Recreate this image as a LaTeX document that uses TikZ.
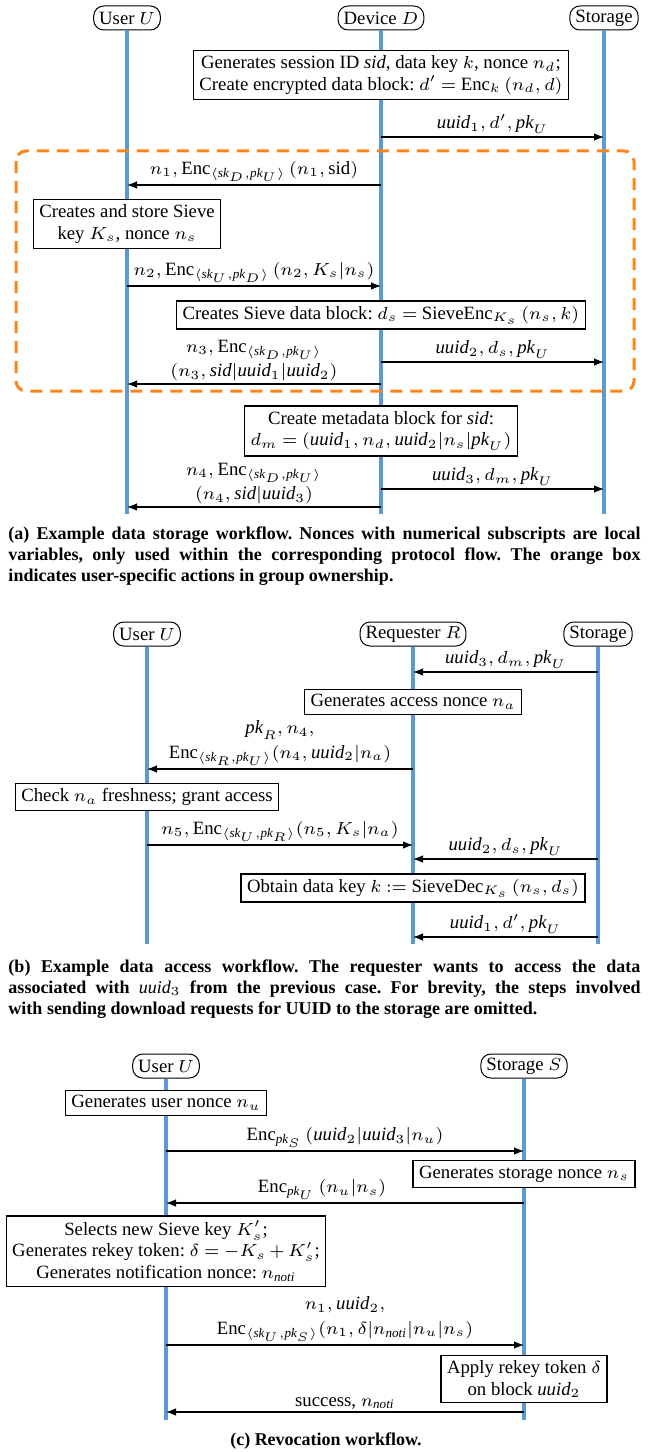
\documentclass[tikz,border=0pt]{standalone}
\usepackage{fontspec}
\setmainfont{Liberation Serif}
\usetikzlibrary{arrows.meta}
\definecolor{lifeblue}{RGB}{91,155,213}
\definecolor{grporange}{RGB}{255,133,27}
\newcommand\dfont{\fontsize{7.5}{8.6}\selectfont}
\newcommand\cfont{\fontsize{7.2}{8.4}\selectfont\bfseries}
\newcommand\capline[1]{\makebox[252.8pt][s]{#1}}
\newcommand\muu[1]{\mathit{uuid}_{#1}}
\newcommand\mpk[1]{\mathit{pk}_{#1}}
\newcommand\msk[1]{\mathit{sk}_{#1}}
\newcommand\msid{\mathit{sid}}
\newcommand\mnoti{n_{\mathit{noti}}}
\frenchspacing
\medmuskip=3mu plus 2mu minus 3mu
\thickmuskip=4mu plus 3mu minus 1mu
\begin{document}
\begin{tikzpicture}[x=0.4pt,y=-0.4pt,
  actor/.style={draw,rounded corners=4pt,inner xsep=2.2pt,inner ysep=1pt,minimum height=9.6pt,font=\dfont,fill=white},
  life/.style={draw=lifeblue,line width=1.4pt},
  grp/.style={draw=grporange,line width=1.2pt,dash pattern=on 4.8pt off 3.2pt,rounded corners=4pt},
  box/.style={draw,fill=white,line width=0.5pt,inner xsep=2.4pt,inner ysep=2pt,align=center,font=\dfont},
  msg/.style={draw,line width=0.45pt,-{Latex[length=4pt,width=3pt]}},
  lbl/.style={above,inner sep=1pt,align=center,font=\dfont},
  captext/.style={anchor=base west,inner sep=0pt,font=\cfont}]
\useasboundingbox (0,0) rectangle (652,1452);

% ---------------- (a) ----------------
\node[actor] (ua) at (127,18) {User $U$};
\node[actor] (da) at (381,18) {Device $D$};
\node[actor] (sa) at (604,18) {Storage};
\coordinate (uaz) at (127,514);
\coordinate (daz) at (381,514);
\coordinate (saz) at (604,514);
\draw[life] (ua) -- (uaz);
\draw[life] (da) -- (daz);
\draw[life] (sa) -- (saz);
\draw[grp] (16,151) rectangle (634,391);

\node[box] (a1) at (381,75) {Generates session ID $\msid$, data key $k$, nonce $n_d$;\\ Create encrypted data block: $d' = \mathrm{Enc}_k\,(n_d, d)$};
\coordinate (m1a) at (381,137); \coordinate (m1b) at (604,137);
\draw[msg] (m1a) -- node[lbl] (t1) {$\muu1, d', \mpk U$} (m1b);
\coordinate (m2a) at (381,185); \coordinate (m2b) at (127,185);
\draw[msg] (m2a) -- node[lbl] (t2) {$n_1, \mathrm{Enc}_{\langle \msk D, \mpk U\rangle}\,(n_1, \mathrm{sid})$} (m2b);
\node[box] (a2) at (127,224) {Creates and store Sieve\\ key $K_s$, nonce $n_s$};
\coordinate (m3a) at (127,286); \coordinate (m3b) at (381,286);
\draw[msg] (m3a) -- node[lbl] (t3) {$n_2, \mathrm{Enc}_{\langle \msk U, \mpk D\rangle}\,(n_2, K_s|n_s)$} (m3b);
\node[box] (a3) at (381,315) {Creates Sieve data block: $d_s = \mathrm{SieveEnc}_{K_s}\,(n_s, k)$};
\coordinate (m4a) at (381,362); \coordinate (m4b) at (604,362);
\draw[msg] (m4a) -- node[lbl] (t4) {$\muu2, d_s, \mpk U$} (m4b);
\coordinate (m5a) at (381,384); \coordinate (m5b) at (127,384);
\draw[msg] (m5a) -- node[lbl] (t5) {$n_3, \mathrm{Enc}_{\langle \msk D, \mpk U\rangle}$\\[1.2pt] $(n_3, \msid|\muu1|\muu2)$} (m5b);
\node[box] (a4) at (381,431) {Create metadata block for $\msid$:\\ $d_m = (\muu1, n_d, \muu2|n_s|\mpk U)$};
\coordinate (m6a) at (381,489); \coordinate (m6b) at (604,489);
\draw[msg] (m6a) -- node[lbl] (t6) {$\muu3, d_m, \mpk U$} (m6b);
\coordinate (m7a) at (381,507); \coordinate (m7b) at (127,507);
\draw[msg] (m7a) -- node[lbl] (t7) {$n_4, \mathrm{Enc}_{\langle \msk D, \mpk U\rangle}$\\[1.2pt] $(n_4, \msid|\muu3)$} (m7b);

\node[captext] (ca1) at (8,539) {\capline{(a) Example data storage workflow. Nonces with numerical subscripts are local}};
\node[captext] (ca2) at (8,560) {\capline{variables, only used within the corresponding protocol flow. The orange box}};
\node[captext] (ca3) at (8,581) {indicates user-specific actions in group ownership.};

% ---------------- (b) ----------------
\node[actor] (ub) at (147,634) {User $U$};
\node[actor] (rb) at (413,634) {Requester $R$};
\node[actor] (sb) at (598,634) {Storage};
\coordinate (ubz) at (147,944);
\coordinate (rbz) at (413,944);
\coordinate (sbz) at (598,944);
\draw[life] (ub) -- (ubz);
\draw[life] (rb) -- (rbz);
\draw[life] (sb) -- (sbz);

\coordinate (n1a) at (598,672); \coordinate (n1b) at (413,672);
\draw[msg] (n1a) -- node[lbl] (s1) {$\muu3, d_m, \mpk U$} (n1b);
\node[box] (b1) at (413,702) {Generates access nonce $n_a$};
\coordinate (n2a) at (413,769); \coordinate (n2b) at (147,769);
\draw[msg] (n2a) -- node[lbl] (s2) {$\mpk R, n_4,$\\[1.2pt] $\mathrm{Enc}_{\langle \msk R, \mpk U\rangle}(n_4, \muu2|n_a)$} (n2b);
\node[box] (b2) at (147,797) {Check $n_a$ freshness; grant access};
\coordinate (n3a) at (147,845); \coordinate (n3b) at (413,845);
\draw[msg] (n3a) -- node[lbl] (s3) {$n_5, \mathrm{Enc}_{\langle \msk U, \mpk R\rangle}(n_5, K_s|n_a)$} (n3b);
\coordinate (n4a) at (598,859); \coordinate (n4b) at (413,859);
\draw[msg] (n4a) -- node[lbl] (s4) {$\muu2, d_s, \mpk U$} (n4b);
\node[box] (b3) at (413,888) {Obtain data key $k := \mathrm{SieveDec}_{K_s}\,(n_s, d_s)$};
\coordinate (n5a) at (598,937); \coordinate (n5b) at (413,937);
\draw[msg] (n5a) -- node[lbl] (s5) {$\muu1, d', \mpk U$} (n5b);

\node[captext] (cb1) at (8,972) {\capline{(b) Example data access workflow. The requester wants to access the data}};
\node[captext] (cb2) at (8,993) {\capline{associated with \mdseries$\muu3$\bfseries{} from the previous case. For brevity, the steps involved}};
\node[captext] (cb3) at (8,1014) {with sending download requests for UUID to the storage are omitted.};

% ---------------- (c) ----------------
\node[actor] (uc) at (166,1066) {User $U$};
\node[actor] (sc) at (524,1066) {Storage $S$};
\coordinate (ucz) at (166,1420);
\coordinate (scz) at (524,1420);
\draw[life] (uc) -- (ucz);
\draw[life] (sc) -- (scz);

\node[box] (c1) at (166,1103) {Generates user nonce $n_u$};
\coordinate (o1a) at (166,1151); \coordinate (o1b) at (524,1151);
\draw[msg] (o1a) -- node[lbl] (r1) {$\mathrm{Enc}_{\mpk S}\,(\muu2|\muu3|n_u)$} (o1b);
\node[box] (c2) at (524,1174) {Generates storage nonce $n_s$};
\coordinate (o2a) at (524,1203); \coordinate (o2b) at (166,1203);
\draw[msg] (o2a) -- node[lbl,pos=0.564] (r2) {$\mathrm{Enc}_{\mpk U}\,(n_u|n_s)$} (o2b);
\node[box] (c3) at (166,1251) {Selects new Sieve key $K'_s$;\\ Generates rekey token: $\delta = -K_s + K'_s$;\\ Generates notification nonce: $\mnoti$};
\coordinate (o3a) at (166,1345); \coordinate (o3b) at (524,1345);
\draw[msg] (o3a) -- node[lbl] (r3) {$n_1, \muu2,$\\[1.2pt] $\mathrm{Enc}_{\langle \msk U, \mpk S\rangle}(n_1, \delta|\mnoti|n_u|n_s)$} (o3b);
\node[box] (c4) at (524,1379) {Apply rekey token $\delta$\\ on block $\muu2$};
\coordinate (o4a) at (524,1412); \coordinate (o4b) at (166,1412);
\draw[msg] (o4a) -- node[lbl] (r4) {success, $\mnoti$} (o4b);

\node[captext,anchor=base] (cc1) at (326,1445) {(c) Revocation workflow.};
\end{tikzpicture}
\end{document}
